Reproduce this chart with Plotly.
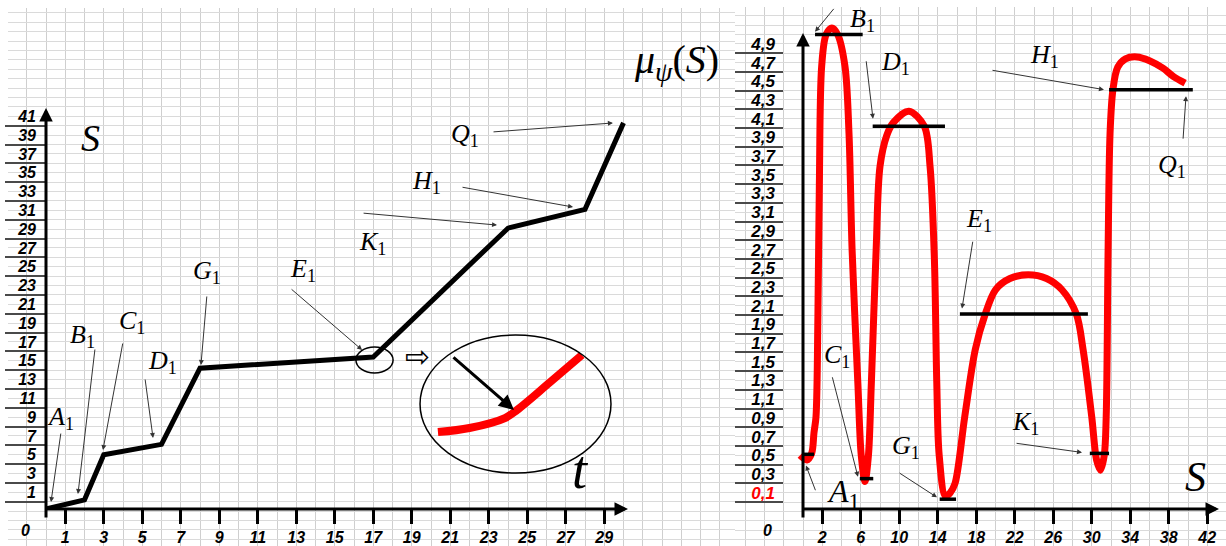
import plotly.graph_objects as go

W, H = 1226, 546

# ---------------- data: left chart S(t) ----------------
t_pts = [0, 2, 3, 6, 8, 17, 24, 28, 30]
s_pts = [-0.78, 0.2, 5.0, 6.1, 14.2, 15.4, 29.1, 31.1, 40.3]
left_xticks = list(range(1, 30, 2))
left_yticks = list(range(1, 42, 2))
left_sep = list(range(0, 41, 2))

# inset (magnified corner E1), in left-chart coordinates
inset_t = [20.36, 22.0, 23.84, 24.47, 26.18, 27.84]
inset_s = [7.41, 7.84, 8.9, 9.76, 12.7, 15.6]

# ---------------- data: right chart mu_psi(S) ----------------
S_vals = [-0.3, 0.4, 0.9, 1.14, 1.35, 1.55, 1.7, 1.94, 2.4, 3.0, 3.6, 4.36, 4.78, 5.1, 5.7, 6.05,
          6.44, 6.8, 7.1, 7.6, 8.0, 8.7, 9.4, 11.0, 12.6, 13.2, 13.65, 13.9, 14.15, 14.8, 15.3,
          15.8, 16.8, 17.9, 18.9, 20.0, 21.5, 23.4, 25.3, 26.9, 28.4, 29.1, 30.0, 30.5, 30.9,
          31.3, 31.5, 31.7, 31.9, 32.2, 32.7, 33.5, 34.7, 36.0, 37.4, 38.5, 39.7]
mu_vals = [0.50, 0.45, 0.52, 0.74, 0.91, 2.0, 3.4, 4.66, 5.0, 5.07, 5.0, 4.66, 3.94, 2.7, 1.27, 0.5,
           0.22, 0.5, 1.27, 2.7, 3.59, 3.92, 4.06, 4.18, 4.02, 3.59, 2.6, 1.27, 0.5, 0.06, 0.1,
           0.2, 0.91, 1.63, 2.0, 2.27, 2.39, 2.43, 2.39, 2.27, 2.01, 1.63, 0.91, 0.45, 0.34,
           0.5, 0.91, 2.7, 3.94, 4.41, 4.65, 4.74, 4.76, 4.72, 4.64, 4.55, 4.48]

level_names = ["A1", "B1", "C1", "D1", "G1", "E1", "K1", "H1"]
level_start = [0.0, 1.25, 5.9, 7.24, 14.2, 16.3, 29.8, 31.8]
level_end = [1.15, 6.2, 7.3, 14.75, 15.9, 29.6, 31.8, 40.5]
level_mu = [0.51, 5.0, 0.25, 4.02, 0.03, 2.01, 0.52, 4.41]

right_xticks = list(range(2, 43, 4))
right_yticks = [round(0.1 + 0.2 * i, 1) for i in range(25)]
right_ytext = [f"{v:.1f}".replace(".", ",") for v in right_yticks]
right_ytext[0] = '<span style="color:#ff0000">' + right_ytext[0] + "</span>"
right_sep = [round(0.2 * i, 1) for i in range(25)]


def px(x):
    return x / W


def py(y):
    return 1 - y / H


fig = go.Figure()

# dummy traces so every helper subplot exists
for xa, ya in [("x", "y"), ("x2", "y2"), ("x5", "y5"), ("x6", "y6")]:
    fig.add_trace(go.Scatter(x=[None], y=[None], xaxis=xa, yaxis=ya, showlegend=False,
                             hoverinfo="skip"))

# left chart curve
fig.add_trace(go.Scatter(x=t_pts, y=s_pts, mode="lines", xaxis="x3", yaxis="y3",
                         line=dict(color="black", width=5), showlegend=False))
# inset red curve
fig.add_trace(go.Scatter(x=inset_t, y=inset_s, mode="lines", xaxis="x3", yaxis="y3",
                         line=dict(color="#ff0000", width=8, shape="spline"), showlegend=False))

# right chart curve
fig.add_trace(go.Scatter(x=S_vals, y=mu_vals, mode="lines", xaxis="x4", yaxis="y4",
                         line=dict(color="#ff0000", width=7, shape="spline", smoothing=0.9),
                         showlegend=False))
lx, ly = [], []
for a, b, m in zip(level_start, level_end, level_mu):
    lx += [a, b, None]
    ly += [m, m, None]
fig.add_trace(go.Scatter(x=lx, y=ly, mode="lines", xaxis="x4", yaxis="y4",
                         line=dict(color="black", width=3.5), showlegend=False))

tickfont = dict(family="Liberation Sans", size=16, color="black", weight="bold", style="italic")
tickfont_r = dict(tickfont, size=17)
grid_v = "#cfcfcf"

# left chart ranges
L_x0, L_y0 = 46, 501.7
L_ux, L_uy = 19.25, 9.4
R_x0, R_y0 = 803, 502
R_ux, R_uy = 9.625, 93.5

left_yrange = [(L_y0 - 509) / L_uy, (L_y0 - 100) / L_uy]
right_yrange = [(R_y0 - 509) / R_uy, (R_y0 - 10) / R_uy]
left_ydom = [py(509), py(100)]
right_ydom = [py(509), py(10)]

fig.update_layout(
    width=W, height=H, margin=dict(l=0, r=0, t=0, b=0),
    paper_bgcolor="white", plot_bgcolor="rgba(0,0,0,0)",
    # background spreadsheet grid, left
    xaxis=dict(domain=[px(8), px(735)], range=[8, 735], anchor="y", tick0=L_x0, dtick=L_ux,
               showgrid=True, gridcolor=grid_v, gridwidth=1, showticklabels=False,
               zeroline=False, ticks=""),
    yaxis=dict(domain=[0, py(8)], range=[546, 8], anchor="x", tick0=L_y0, dtick=L_uy,
               showgrid=True, gridcolor="#dadada", gridwidth=1, showticklabels=False,
               zeroline=False, ticks=""),
    # background grid, right
    xaxis2=dict(domain=[px(735), 1], range=[735, 1226], anchor="y2", tick0=R_x0, dtick=19.25,
                showgrid=True, gridcolor=grid_v, gridwidth=1, showticklabels=False,
                zeroline=False, ticks=""),
    yaxis2=dict(domain=[0, py(7)], range=[546, 7], anchor="x2", tick0=R_y0, dtick=9.35,
                showgrid=True, gridcolor="#dadada", gridwidth=1, showticklabels=False,
                zeroline=False, ticks=""),
    # left chart
    xaxis3=dict(domain=[px(40), px(632)], range=[(40 - L_x0) / L_ux, (632 - L_x0) / L_ux],
                anchor="y3", tickmode="array", tickvals=left_xticks,
                ticktext=[str(v) for v in left_xticks], ticks="outside", ticklen=14,
                tickwidth=3, tickcolor="black", tickfont=tickfont, ticklabelstandoff=0,
                ticklabeloverflow="allow", showgrid=False, zeroline=False, showline=False),
    yaxis3=dict(domain=left_ydom, range=left_yrange, anchor="free", position=px(L_x0),
                tickmode="array", tickvals=left_yticks, ticktext=[str(v) for v in left_yticks],
                ticks="", tickfont=tickfont, ticklabelstandoff=10, showgrid=False,
                zeroline=False, showline=False),
    # right chart
    xaxis4=dict(domain=[px(790), px(1222)], range=[(790 - R_x0) / R_ux, (1222 - R_x0) / R_ux],
                anchor="y4", tickmode="array", tickvals=right_xticks,
                ticktext=[str(v) for v in right_xticks], ticks="outside", ticklen=14,
                tickwidth=3, tickcolor="black", tickfont=tickfont, ticklabelstandoff=0,
                ticklabeloverflow="allow", showgrid=False, zeroline=False, showline=False),
    yaxis4=dict(domain=right_ydom, range=right_yrange, anchor="free", position=px(R_x0),
                tickmode="array", tickvals=right_yticks, ticktext=right_ytext,
                ticks="", tickfont=tickfont_r, ticklabelstandoff=28, showgrid=False,
                zeroline=False, showline=False),
    # label column separators
    xaxis5=dict(domain=[px(5), px(46)], range=[0, 1], anchor="y5", showgrid=False,
                zeroline=False, showticklabels=False, ticks=""),
    yaxis5=dict(domain=left_ydom, range=left_yrange, anchor="x5", tickmode="array",
                tickvals=left_sep, showgrid=True, gridcolor="#4a4a4a", gridwidth=2,
                showticklabels=False, zeroline=False, ticks=""),
    xaxis6=dict(domain=[px(735), px(783)], range=[0, 1], anchor="y6", showgrid=False,
                zeroline=False, showticklabels=False, ticks=""),
    yaxis6=dict(domain=right_ydom, range=right_yrange, anchor="x6", tickmode="array",
                tickvals=right_sep, showgrid=True, gridcolor="#4a4a4a", gridwidth=2,
                showticklabels=False, zeroline=False, ticks=""),
)

ann = []

# axis lines with arrowheads (paper coords, tail offsets in pixels)
def axis_arrow(hx, hy, tx, ty):
    ann.append(dict(x=px(hx), y=py(hy), xref="paper", yref="paper", ax=tx - hx, ay=ty - hy,
                    text="", showarrow=True, arrowhead=2, arrowsize=0.9, arrowwidth=3,
                    arrowcolor="black", standoff=0))

axis_arrow(46, 108, 46, 519)
axis_arrow(628, 509, 44, 509)
axis_arrow(803, 33, 803, 519)
axis_arrow(1219, 509, 801, 509)

# pointer arrows
def pointer(xr, yr, tail, head, width=1, color="#333", size=1.0, head_style=2):
    ann.append(dict(x=head[0], y=head[1], ax=tail[0], ay=tail[1], xref=xr, yref=yr,
                    axref=xr, ayref=yr, text="", showarrow=True, arrowhead=head_style,
                    arrowsize=size, arrowwidth=width, arrowcolor=color, standoff=0))

left_arrows = [
    ((0.78, 7.41), (0.26, -0.03)),
    ((2.55, 16.35), (1.66, 0.82)),
    ((4.0, 16.99), (2.96, 5.5)),
    ((5.14, 13.16), (5.56, 6.78)),
    ((8.36, 21.99), (8.05, 14.54)),
    ((12.68, 22.73), (16.42, 16.14)),
    ((16.42, 30.71), (23.43, 29.43)),
    ((21.56, 33.48), (27.38, 31.35)),
    ((23.17, 39.33), (29.45, 40.29)),
]
for tail, head in left_arrows:
    pointer("x3", "y3", tail, head)
# inset arrow
pointer("x3", "y3", (21.09, 15.5), (24.31, 9.76), width=3, color="black", size=1.0)

right_arrows = [
    ((3.32, 5.29), (1.25, 5.03)),
    ((6.55, 4.73), (7.27, 4.10)),
    ((19.53, 4.62), (31.27, 4.41)),
    ((39.48, 3.87), (39.79, 4.34)),
    ((17.66, 2.80), (16.52, 2.07)),
    ((22.03, 0.63), (28.99, 0.53)),
    ((3.01, 1.35), (5.71, 0.27)),
    ((1.35, 0.11), (0.31, 0.39)),
    ((9.87, 0.32), (13.92, 0.05)),
]
for tail, head in right_arrows:
    pointer("x4", "y4", tail, head)

serif = "Liberation Serif"

def label(text, x, y, xr, yr, size=24):
    ann.append(dict(x=x, y=y, xref=xr, yref=yr, text=text, showarrow=False,
                    font=dict(family=serif, size=size, color="black"),
                    xanchor="center", yanchor="middle"))

def sub(letter):
    return f"<i>{letter[0]}</i><sub>{letter[1:]}</sub>"

left_labels = [
    ("A1", 0.73, 8.9), ("B1", 1.87, 17.6), ("C1", 4.47, 19.1), ("D1", 6.03, 14.86),
    ("G1", 8.36, 24.44), ("E1", 13.35, 24.6), ("K1", 16.94, 27.5), ("H1", 19.79, 34.0),
    ("Q1", 21.77, 39.0),
]
for name, x, y in left_labels:
    label(sub(name), x, y, "x3", "y3", 26)
label("<i>S</i>", 2.29, 38.7, "x3", "y3", 38)
label("<i>t</i>", 27.74, 3.4, "x3", "y3", 54)

right_labels = [
    ("B1", 6.13, 5.16), ("D1", 9.56, 4.70), ("H1", 25.14, 4.77), ("Q1", 38.34, 3.59),
    ("E1", 18.29, 3.02), ("K1", 23.07, 0.845), ("C1", 3.53, 1.56), ("G1", 10.7, 0.59),
]
for name, x, y in right_labels:
    label(sub(name), x, y, "x4", "y4", 26)
label(sub("A1"), 4.16, 0.096, "x4", "y4", 32)
label("<i>S</i>", 40.73, 0.27, "x4", "y4", 42)

label("<i>μ</i><sub><i>ψ</i></sub>(<i>S</i>)", px(676), py(62), "paper", "paper", 40)

# double outline arrow
ann.append(dict(x=px(417), y=py(356), xref="paper", yref="paper", text="⇨", showarrow=False,
                font=dict(family="DejaVu Sans", size=30, color="black"),
                xanchor="center", yanchor="middle"))

# zeros
for zx, zy in [(25, 530), (768, 530)]:
    ann.append(dict(x=px(zx), y=py(zy), xref="paper", yref="paper", text="0", showarrow=False,
                    font=tickfont, xanchor="center", yanchor="middle"))

fig.update_layout(annotations=ann)

# ellipses (small around E1, big magnified inset)
fig.add_shape(type="circle", xref="x3", yref="y3", x0=16.1, x1=18.03, y0=13.7, y1=16.46,
              line=dict(color="black", width=1.5))
fig.add_shape(type="circle", xref="x3", yref="y3", x0=19.43, x1=29.35, y0=3.05, y1=17.73,
              line=dict(color="black", width=1.5))

fig.write_html("out.html", config={"displayModeBar": False},
               post_script="document.body.style.margin='0px';"
                           "document.body.style.overflow='hidden';")
